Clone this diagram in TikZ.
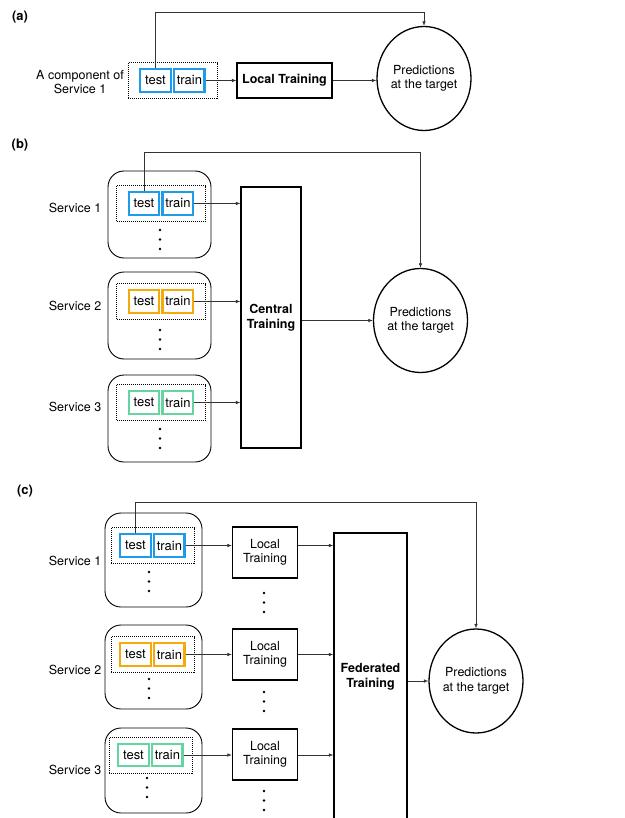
\documentclass[tikz,border=0pt]{standalone}
\usepackage{fontspec}
\setmainfont{TeX Gyre Heros}
\usetikzlibrary{positioning,fit,shapes.geometric,arrows.meta}
\definecolor{svcblue}{RGB}{30,155,235}
\definecolor{svcorange}{RGB}{245,170,10}
\definecolor{svcgreen}{RGB}{100,212,160}

\begin{document}
\begin{tikzpicture}[x=1pt, y=-1pt, font=\fontsize{12.5}{14.5}\selectfont,
    panel/.style = {font=\fontsize{13}{15}\selectfont\bfseries},
    split/.style = {draw=#1, line width=2.4pt, minimum width=30.5pt, minimum height=22.5pt, inner sep=0pt, font=\fontsize{13}{15}\selectfont},
    hold/.style = {draw, line width=0.7pt, dash pattern=on 1pt off 1pt, inner xsep=11pt, inner ysep=5.5pt},
    service/.style = {draw, line width=0.9pt, rounded corners=16pt, minimum width=103pt},
    trainbox/.style = {draw, line width=1.3pt, align=center, inner sep=0pt},
    pred/.style = {draw, ellipse, line width=1.3pt, minimum width=86pt, minimum height=104pt, align=center, inner sep=0pt},
    arr/.style = {-{Latex[length=4.5pt,width=3.5pt]}, line width=0.6pt, black!80}]
\path[use as bounding box, clip] (0,0) rectangle (624,818);

\node[panel] (la) at (20,17) {(a)};
\node[split=svcblue] (atest) at (155.5,80.5) {test};
\node[split=svcblue, right=1pt of atest] (atrain) {train};
\node[hold, fit=(atest)(atrain)] (ahold) {};
\node[align=center] (acomp) at (80,82) {A component of\\Service 1};
\node[trainbox, minimum width=95pt, minimum height=35pt, font=\fontsize{12.5}{14.5}\selectfont\bfseries] (aloc) at (284.5,80.5) {Local Training};
\node[pred] (apred) at (424,78.5) {Predictions\\at the target};
\coordinate (atop) at (424,12);
\draw[arr] (atrain) -- (aloc);
\draw[arr] (aloc.east) -- (aloc.east -| apred.west);
\draw[arr] (atest.north) |- (atop) -- (apred.north);

\node[panel] (lb) at (20,145) {(b)};
\foreach \i/\c/\y/\s/\d in {1/svcblue/203.5/214.5/230, 2/svcorange/301.5/315.5/330, 3/svcgreen/402.5/418.5/429} {
    \node[service, minimum height=87pt] (bsvc\i) at (159.5,\s) {};
    \node[split=\c] (btest\i) at (144,\y) {test};
    \node[split=\c, right=1pt of btest\i] (btrain\i) {train};
    \node[hold, fit=(btest\i)(btrain\i)] (bhold\i) {};
    \node (bname\i) at (75,\y+4) {Service \i};
    \foreach \k in {0,9.5,19} \fill (160,\d+\k) circle (1.4);
}
\node[trainbox, minimum width=60pt, minimum height=261pt, font=\fontsize{12.5}{14.5}\selectfont\bfseries] (central) at (271,317.5) {Central\\Training};
\node[pred] (bpred) at (420.5,320.5) {Predictions\\at the target};
\coordinate (btop) at (420.5,152);
\foreach \i in {1,2,3} \draw[arr] (btrain\i) -- (btrain\i -| central.west);
\draw[arr] (bpred.west -| central.east) -- (bpred.west);
\draw[arr] (btest1.north) |- (btop) -- (bpred.north);

\node[panel] (lc) at (25,491) {(c)};
\foreach \i/\c/\x/\y/\s/\h/\d/\e/\q in {1/svcblue/135.5/545.5/560/94/572/552.5/593, 2/svcorange/135.5/654.5/667/84/679/654.5/692, 3/svcgreen/133.5/755/770.5/85/778/754.5/791} {
    \node[service, minimum width=97pt, minimum height=\h] (csvc\i) at (153.5,\s) {};
    \node[split=\c] (ctest\i) at (\x,\y) {test};
    \node[split=\c, right=1pt of ctest\i] (ctrain\i) {train};
    \node[hold, inner xsep=8pt, fit=(ctest\i)(ctrain\i)] (chold\i) {};
    \node (cname\i) at (75,\y+15) {Service \i};
    \node[trainbox, minimum width=65pt, minimum height=51pt] (cloc\i) at (265,\e) {Local\\Training};
    \foreach \k in {0,9.5,19} {
        \fill (\x+13.5,\d+\k) circle (1.4);
        \fill (264,\q+\k) circle (1.4);
    }
}
\node[trainbox, minimum width=73pt, minimum height=288pt, font=\fontsize{12.5}{14.5}\selectfont\bfseries] (fed) at (370.5,677) {Federated\\Training};
\node[pred] (cpred) at (476,681) {Predictions\\at the target};
\coordinate (ctop) at (476,502);
\foreach \i in {1,2,3} {
    \draw[arr] (ctrain\i) -- (ctrain\i -| cloc\i.west);
    \draw[arr] (cloc\i.east |- ctrain\i) -- (ctrain\i -| fed.west);
}
\draw[arr] (cpred.west -| fed.east) -- (cpred.west);
\draw[arr] (ctest1.north) |- (ctop) -- (cpred.north);
\end{tikzpicture}
\end{document}
